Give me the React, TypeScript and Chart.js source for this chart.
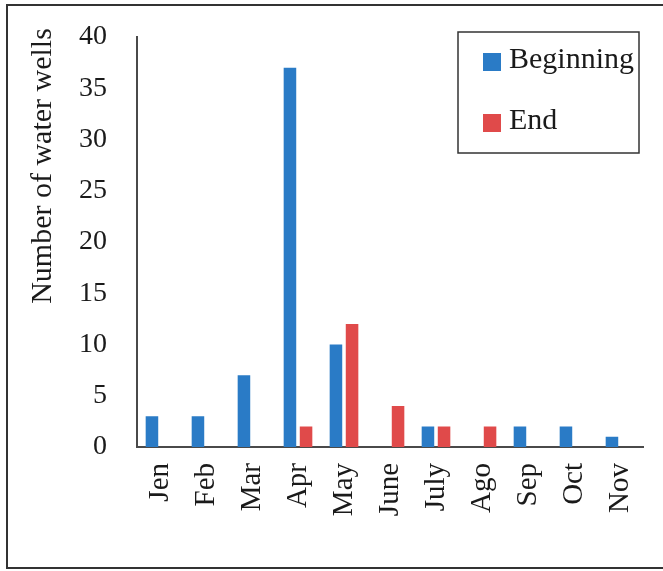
import React, { useEffect, useRef } from "react";
import { Chart, registerables } from "chart.js";

Chart.register(...registerables);

const categories = ["Jen", "Feb", "Mar", "Apr", "May", "June", "July", "Ago", "Sep", "Oct", "Nov"];
const beginningValues = [3, 3, 7, 37, 10, null, 2, null, 2, 2, 1];
const endValues = [null, null, null, 2, 12, 4, 2, 2, null, null, null];
const seriesLabels = ["Beginning", "End"];
const yTitle = "Number of water wells";

const BLUE = "#2a7bc6";
const RED = "#e04a4a";
const FONT = "'Liberation Serif', 'Times New Roman', serif";

const decorPlugin = {
  id: "decor",
  afterDraw(chart: any) {
    const ctx = chart.ctx;
    ctx.save();
    // outer frame
    ctx.strokeStyle = "#333333";
    ctx.lineWidth = 2;
    ctx.strokeRect(7, 5, 700, 563);
    // y title
    ctx.fillStyle = "#1a1a1a";
    ctx.font = `30px ${FONT}`;
    ctx.textAlign = "center";
    ctx.textBaseline = "middle";
    ctx.translate(43, 166);
    ctx.rotate(-Math.PI / 2);
    ctx.fillText(yTitle, 0, 0);
    ctx.restore();

    // legend
    ctx.save();
    ctx.strokeStyle = "#333333";
    ctx.lineWidth = 1.5;
    ctx.strokeRect(458, 32, 181, 121);
    ctx.font = `30px ${FONT}`;
    ctx.textAlign = "left";
    ctx.textBaseline = "middle";
    const ys = [62, 123];
    chart.data.datasets.forEach((ds: any, i: number) => {
      ctx.fillStyle = ds.backgroundColor;
      ctx.fillRect(483, ys[i] - 9, 18, 18);
      ctx.fillStyle = "#1a1a1a";
      ctx.fillText(ds.label, 509, ys[i] - 2);
    });
    ctx.restore();
  },
};

export default function App() {
  const ref = useRef<HTMLCanvasElement | null>(null);
  useEffect(() => {
    if (!ref.current) return;
    const chart = new Chart(ref.current, {
      type: "bar",
      data: {
        labels: categories,
        datasets: [
          { label: seriesLabels[0], data: beginningValues as any, backgroundColor: BLUE, categoryPercentage: 0.7, barPercentage: 0.78 },
          { label: seriesLabels[1], data: endValues as any, backgroundColor: RED, categoryPercentage: 0.7, barPercentage: 0.78 },
        ],
      },
      options: {
        responsive: false,
        animation: false,
        layout: { padding: { top: 37, right: 20, left: 0, bottom: 0 } },
        plugins: { legend: { display: false }, tooltip: { enabled: false } },
        scales: {
          x: {
            grid: { display: false, drawTicks: false },
            border: { display: true, color: "#4a4a4a", width: 2 },
            ticks: {
              color: "#1a1a1a",
              font: { family: FONT, size: 29 },
              maxRotation: 90,
              minRotation: 90,
              padding: 16,
              autoSkip: false,
            },
            afterFit: (s: any) => {
              s.height = 124;
              s.paddingLeft = 0;
              s.paddingRight = 0;
            },
          },
          y: {
            min: 0,
            max: 40,
            grid: { display: false, drawTicks: false },
            border: { display: true, color: "#4a4a4a", width: 2 },
            ticks: {
              stepSize: 5,
              color: "#1a1a1a",
              font: { family: FONT, size: 28 },
              padding: 30,
            },
            afterFit: (s: any) => {
              s.width = 137;
              s.paddingTop = 0;
              s.paddingBottom = 0;
            },
          },
        },
      },
      plugins: [decorPlugin],
    });
    return () => chart.destroy();
  }, []);
  return (
    <div style={{ position: "fixed", left: 0, top: 0, width: 663, height: 571, background: "#fff" }}>
      <canvas ref={ref} width={663} height={571} style={{ display: "block" }} />
    </div>
  );
}
